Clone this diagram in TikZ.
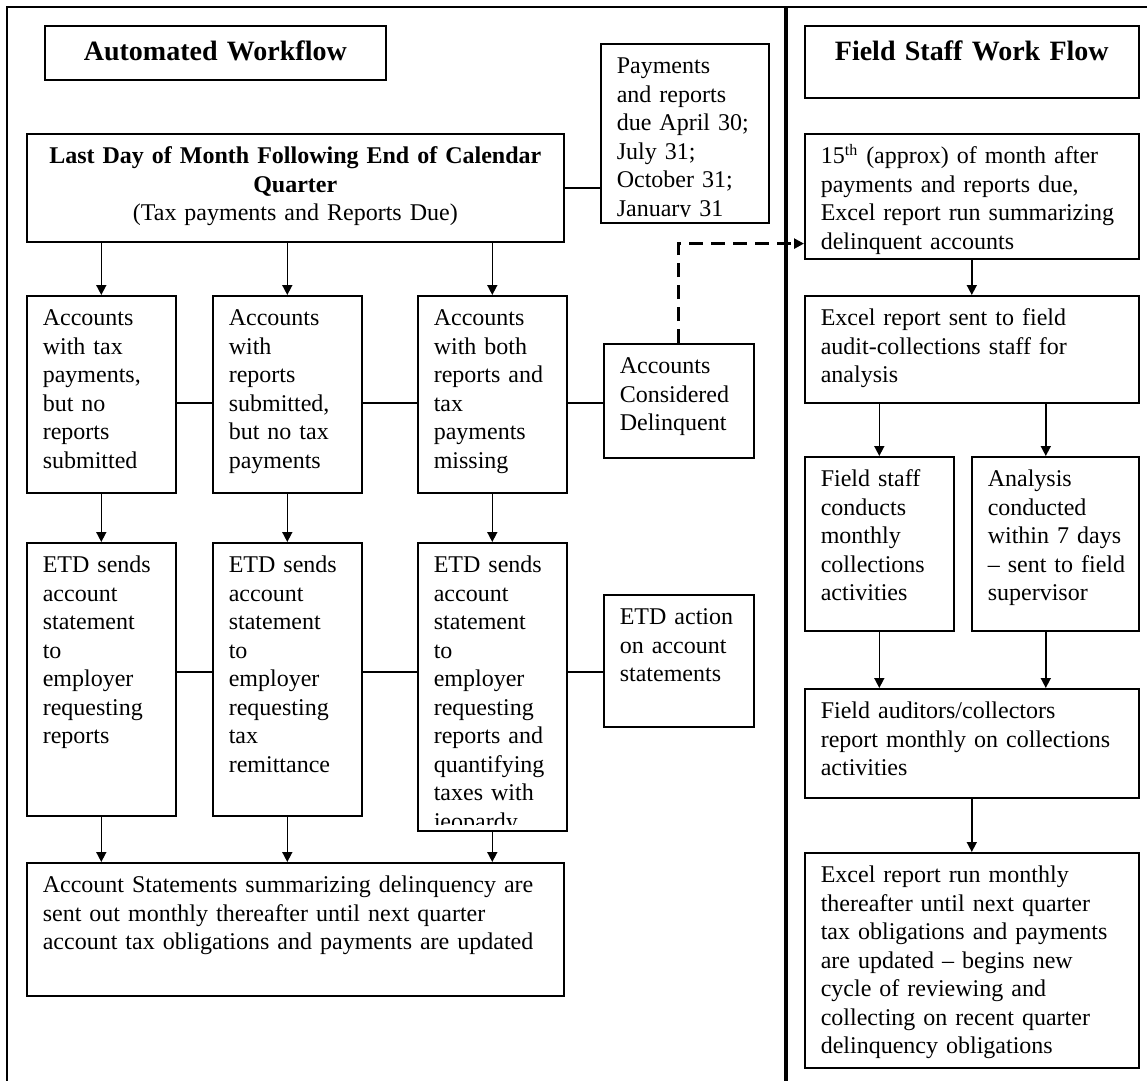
\documentclass[tikz,border=0pt]{standalone}
\usepackage{fontspec}
\setmainfont{Liberation Serif}
\usetikzlibrary{arrows.meta}

\begin{document}
\begin{tikzpicture}[x=0.5pt,y=-0.5pt,
  cell/.style={draw,line width=0.8pt,anchor=north west,inner xsep=8pt,inner ysep=0pt,
    align=left,text height=15pt,font=\fontsize{12}{14.25}\selectfont},
  head/.style={cell,align=center,text height=17.5pt,font=\fontsize{14}{16}\selectfont\bfseries},
  flow/.style={-{Triangle[length=5pt,width=5pt]},line width=0.8pt},
  link/.style={line width=0.8pt},
  jump/.style={-{Triangle[length=5pt,width=5pt]},line width=1.6pt,dash pattern=on 7pt off 4pt}]
\useasboundingbox (0,0) rectangle (1147,1081);
% frame and divider
\draw[link] (7,1081) -- (7,7) -- (1147,7);
\draw[line width=2pt] (786,7) -- (786,1081);

% automated workflow
\node[head,text width=154.5pt,text depth=9.5pt] (awhead) at (44,25) {Automated Workflow};
\node[cell,align=center,text width=252.5pt,text depth=39pt] (lastday) at (26,133)
  {\textbf{Last Day of Month Following End of Calendar}\\\textbf{Quarter}\\(Tax payments and Reports Due)};
\node[cell,text width=68pt,text depth=74.5pt] (due) at (600,43) {};
\begin{scope}
\clip (due.north west) rectangle ([yshift=3.5pt]due.south east);
\node[cell,draw=none,text width=68pt] (duetxt) at (due.north west)
  {Payments\\and reports\\due April 30;\\July 31;\\October 31;\\January 31};
\end{scope}

\node[cell,text width=58.5pt,text depth=83.5pt] (acc1) at (26,295)
  {Accounts\\with tax\\payments,\\but no\\reports\\submitted};
\node[cell,text width=58.5pt,text depth=83.5pt] (acc2) at (212,295)
  {Accounts\\with\\reports\\submitted,\\but no tax\\payments};
\node[cell,text width=58.5pt,text depth=83.5pt] (acc3) at (417,295)
  {Accounts\\with both\\reports and\\tax\\payments\\missing};
\node[cell,text width=59pt,text depth=42pt] (delq) at (603,343)
  {Accounts\\Considered\\Delinquent};

\node[cell,text width=58.5pt,text depth=121.5pt] (etd1) at (26,542)
  {ETD sends\\account\\statement\\to\\employer\\requesting\\reports};
\node[cell,text width=58.5pt,text depth=121.5pt] (etd2) at (212,542)
  {ETD sends\\account\\statement\\to\\employer\\requesting\\tax\\remittance};
\node[cell,text width=58.5pt,text depth=129pt] (etd3) at (417,542) {};
\begin{scope}
\clip (etd3.north west) rectangle ([yshift=3.5pt]etd3.south east);
\node[cell,draw=none,text width=58.5pt] (etd3txt) at (etd3.north west)
  {ETD sends\\account\\statement\\to\\employer\\requesting\\reports and\\quantifying\\taxes with\\jeopardy};
\end{scope}
\node[cell,text width=59pt,text depth=51pt] (act) at (603,594)
  {ETD action\\on account\\statements};

\node[cell,text width=252.5pt,text depth=51.5pt] (monthly) at (26,862)
  {Account Statements summarizing delinquency are\\sent out monthly thereafter until next quarter\\account tax obligations and payments are updated};

\draw[link] (lastday.east) -- (lastday.east -| due.west);
\draw[flow] (acc1.north |- lastday.south) -- (acc1.north);
\draw[flow] (acc2.north |- lastday.south) -- (acc2.north);
\draw[flow] (acc3.north |- lastday.south) -- (acc3.north);
\coordinate (rowA) at (0,403);
\draw[link] (acc1.east |- rowA) -- (acc2.west |- rowA);
\draw[link] (acc2.east |- rowA) -- (acc3.west |- rowA);
\draw[link] (acc3.east |- rowA) -- (delq.west |- rowA);
\draw[flow] (acc1.south) -- (etd1.north);
\draw[flow] (acc2.south) -- (etd2.north);
\draw[flow] (acc3.south) -- (etd3.north);
\coordinate (rowB) at (0,672);
\draw[link] (etd1.east |- rowB) -- (etd2.west |- rowB);
\draw[link] (etd2.east |- rowB) -- (etd3.west |- rowB);
\draw[link] (etd3.east |- rowB) -- (act.west |- rowB);
\draw[flow] (etd1.south) -- (etd1.south |- monthly.north);
\draw[flow] (etd2.south) -- (etd2.south |- monthly.north);
\draw[flow] (etd3.south) -- (etd3.south |- monthly.north);

% field staff work flow
\node[head,text width=151pt,text depth=18.5pt] (fshead) at (804,25) {Field Staff Work Flow};
\node[cell,text width=151pt,text depth=47.5pt] (fifteen) at (804,133)
  {15\textsuperscript{th} (approx) of month after\\payments and reports due,\\Excel report run summarizing\\delinquent accounts};
\node[cell,text width=151pt,text depth=38.5pt] (sent) at (804,295)
  {Excel report sent to field\\audit-collections staff for\\analysis};
\node[cell,text width=58.5pt,text depth=72pt] (fstaff) at (804,456)
  {Field staff\\conducts\\monthly\\collections\\activities};
\node[cell,text width=67.5pt,text depth=72pt] (analysis) at (971,456)
  {Analysis\\conducted\\\mbox{within 7 days}\\\mbox{-- sent to field}\\supervisor};
\node[cell,text width=151pt,text depth=39.5pt] (auditors) at (804,688)
  {Field auditors/collectors\\report monthly on collections\\activities};
\node[cell,text width=151pt,text depth=92.5pt] (cycle) at (804,852)
  {Excel report run monthly\\thereafter until next quarter\\tax obligations and payments\\are updated -- begins new\\cycle of reviewing and\\collecting on recent quarter\\delinquency obligations};

\draw[jump] (delq.north) |- ([yshift=8pt]fifteen.south west);
\draw[flow] (fifteen.south) -- (sent.north);
\draw[flow] (fstaff.north |- sent.south) -- (fstaff.north);
\draw[flow] ([xshift=-4.75pt]analysis.north |- sent.south) -- ([xshift=-4.75pt]analysis.north);
\draw[flow] (fstaff.south) -- (fstaff.south |- auditors.north);
\draw[flow] ([xshift=-4.75pt]analysis.south) -- ([xshift=-4.75pt]analysis.south |- auditors.north);
\draw[flow] (auditors.south) -- (cycle.north);
\end{tikzpicture}
\end{document}
